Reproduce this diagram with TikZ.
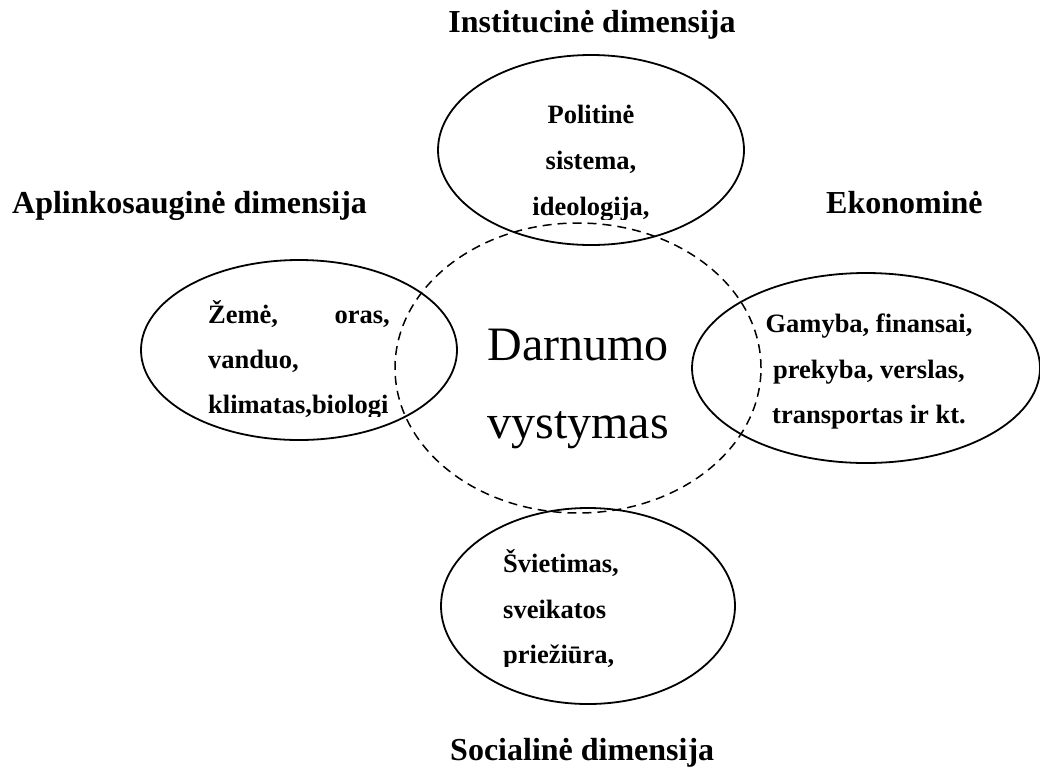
\documentclass[tikz,border=0pt]{standalone}
\usepackage{fontspec}
\setmainfont{Liberation Serif}
\usepackage{tikz}
\usetikzlibrary{shapes.geometric}

\begin{document}
\begin{tikzpicture}[x=1pt, y=-1pt,
        dim/.style={ellipse, draw, line width=1.8pt, inner sep=0pt},
        title/.style={inner sep=0pt, font=\bfseries\fontsize{32}{38}\selectfont},
        item/.style={inner sep=0pt, font=\bfseries\fontsize{26.5}{32}\selectfont}]
                \useasboundingbox (0,0) rectangle (1040,769);
                % dimensijos
                \node[dim, minimum width=306pt, minimum height=190pt] (inst) at (591,150) {};
                \node[dim, minimum width=316pt, minimum height=180pt] (aplink) at (299,350) {};
                \node[dim, minimum width=348pt, minimum height=190pt] (ekon) at (866,368) {};
                \node[dim, minimum width=294pt, minimum height=196pt] (soc) at (588,606) {};
                \node[ellipse, draw, line width=1.5pt, dash pattern=on 9pt off 6pt,
                      minimum width=366pt, minimum height=290pt] (darn) at (578,368) {};
                % antrastes
                \node[title, anchor=base] (tinst) at (592,32) {Institucinė dimensija};
                \node[title, anchor=base west] (taplink) at (12,213) {Aplinkosauginė dimensija};
                \node[title, anchor=base west] (tekon) at (826,213) {Ekonominė};
                \node[title, anchor=base west] (tsoc) at (450,760) {Socialinė dimensija};
                % centras
                \node[inner sep=0pt, font=\fontsize{48}{56}\selectfont, anchor=base] (d1) at (578,360) {Darnumo};
                \node[inner sep=0pt, font=\fontsize{48}{56}\selectfont, anchor=base] (d2) at (578,438) {vystymas};
                % institucine
                \node[item, anchor=base] (i1) at (591,123) {Politinė};
                \node[item, anchor=base] (i2) at (591,169) {sistema,};
                \begin{scope}
                    \clip (440,180) rectangle (745,219);
                    \node[item, anchor=base] (i3) at (591,215) {ideologija,};
                \end{scope}
                % aplinkosaugine
                \node[item, anchor=base west] (a1) at (208,323) {Žemė,};
                \node[item, anchor=base east] (a2) at (390,323) {oras,};
                \node[item, anchor=base west] (a3) at (208,368) {vanduo,};
                \begin{scope}
                    \clip (150,380) rectangle (450,416);
                    \node[item, anchor=base west] (a4) at (208,413) {klimatas,biologi};
                \end{scope}
                % ekonomine
                \node[item, anchor=base] (e1) at (869,332) {Gamyba, finansai,};
                \node[item, anchor=base] (e2) at (869,378) {prekyba, verslas,};
                \node[item, anchor=base] (e3) at (869,423) {transportas ir kt.};
                % socialine
                \node[item, anchor=base west] (s1) at (503,572) {Švietimas,};
                \node[item, anchor=base west] (s2) at (503,618) {sveikatos};
                \begin{scope}
                    \clip (450,630) rectangle (730,666);
                    \node[item, anchor=base west] (s3) at (503,663) {priežiūra,};
                \end{scope}
            \end{tikzpicture}
\end{document}
